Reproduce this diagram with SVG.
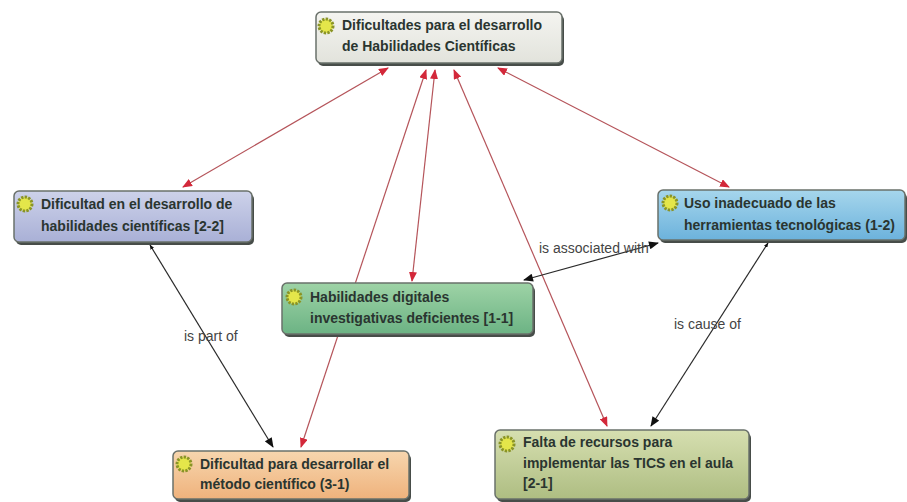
<svg xmlns="http://www.w3.org/2000/svg" width="907" height="502" viewBox="0 0 907 502">
<style>
text{font-family:"Liberation Sans",Arial,sans-serif}
.t{font-size:14px;font-weight:bold;fill:#2a3530}
.l{font-size:14px;fill:#444}
.box{stroke:#6a716b;stroke-width:1.5}
.sh{fill:#474d49}
.r{fill:none;stroke:#b5545a;stroke-width:1.2;marker-start:url(#ra);marker-end:url(#ra)}
.k{fill:none;stroke:#2a2a2a;stroke-width:1.2;marker-end:url(#ka)}
.kb{marker-start:url(#ka)}
.ks{marker-start:url(#kd)}
.sun{fill:#e4e64a;stroke:#8a9426;stroke-width:3;stroke-dasharray:2.4 1.2}
</style>
<defs>
<marker id="ra" viewBox="0 0 10 8" refX="9" refY="4" markerWidth="10" markerHeight="8" orient="auto-start-reverse" markerUnits="userSpaceOnUse"><path d="M0 0L10 4L0 8Z" fill="#d3283a"/></marker>
<marker id="ka" viewBox="0 0 10 8" refX="9" refY="4" markerWidth="11" markerHeight="8" orient="auto-start-reverse" markerUnits="userSpaceOnUse"><path d="M0 0L10 4L0 8Z" fill="#111"/></marker>
<marker id="kd" viewBox="0 0 10 8" refX="9" refY="4" markerWidth="5" markerHeight="4" orient="auto-start-reverse" markerUnits="userSpaceOnUse"><path d="M0 0L10 4L0 8Z" fill="#111"/></marker>
<linearGradient id="g0" x1="0" y1="0" x2="0" y2="1"><stop offset="0" stop-color="#f4f4f0"/><stop offset="1" stop-color="#e2e3dc"/></linearGradient>
<linearGradient id="g1" x1="0" y1="0" x2="0" y2="1"><stop offset="0" stop-color="#cdd2ea"/><stop offset="1" stop-color="#a9b0d6"/></linearGradient>
<linearGradient id="g2" x1="0" y1="0" x2="0" y2="1"><stop offset="0" stop-color="#a6d6ec"/><stop offset="1" stop-color="#6cb2dc"/></linearGradient>
<linearGradient id="g3" x1="0" y1="0" x2="0" y2="1"><stop offset="0" stop-color="#9ed3a6"/><stop offset="1" stop-color="#6cb384"/></linearGradient>
<linearGradient id="g4" x1="0" y1="0" x2="0" y2="1"><stop offset="0" stop-color="#f7d6ae"/><stop offset="1" stop-color="#efb27c"/></linearGradient>
<linearGradient id="g5" x1="0" y1="0" x2="0" y2="1"><stop offset="0" stop-color="#d6dfb0"/><stop offset="1" stop-color="#aebd82"/></linearGradient>
</defs>
<g id="connectors">
<path class="r" d="M388 68L183 187"/>
<path class="r" d="M426 70L301 447"/>
<path class="r" d="M435 70L412 281"/>
<path class="r" d="M454 70L607 426"/>
<path class="r" d="M498 68L729 187"/>
<path class="k ks" d="M150 245L273 447"/>
<path class="k ks" d="M768 243L651 426"/>
<path class="k kb" d="M524 280L658 243"/>
<text class="l" x="184" y="341">is part of</text>
<text class="l" x="674" y="329">is cause of</text>
<text class="l" x="539" y="253">is associated with</text>
</g>
<g id="n0"><rect class="sh" x="318" y="15" width="246" height="51" rx="5"/><rect class="box" x="316" y="12" width="246" height="51" rx="5" fill="url(#g0)"/><circle class="sun" cx="326" cy="26" r="7"/><text class="t" x="342" y="30">Dificultades para el desarrollo</text><text class="t" x="342" y="51">de Habilidades Científicas</text></g>
<g id="n1"><rect class="sh" x="16" y="194" width="238" height="51" rx="5"/><rect class="box" x="14" y="191" width="238" height="51" rx="5" fill="url(#g1)"/><circle class="sun" cx="25" cy="204" r="7"/><text class="t" x="41" y="209">Dificultad en el desarrollo de</text><text class="t" x="41" y="231">habilidades científicas [2-2]</text></g>
<g id="n2"><rect class="sh" x="660" y="193" width="247" height="50" rx="5"/><rect class="box" x="658" y="190" width="247" height="50" rx="5" fill="url(#g2)"/><circle class="sun" cx="670" cy="203" r="7"/><text class="t" x="684" y="208">Uso inadecuado de las</text><text class="t" x="684" y="230">herramientas tecnológicas (1-2)</text></g>
<g id="n3"><rect class="sh" x="284" y="286" width="251" height="51" rx="5"/><rect class="box" x="282" y="283" width="251" height="51" rx="5" fill="url(#g3)"/><circle class="sun" cx="294" cy="297" r="7"/><text class="t" x="310" y="302">Habilidades digitales</text><text class="t" x="310" y="323">investigativas deficientes [1-1]</text></g>
<g id="n4"><rect class="sh" x="175" y="454" width="236" height="48" rx="5"/><rect class="box" x="173" y="451" width="236" height="48" rx="5" fill="url(#g4)"/><circle class="sun" cx="184" cy="464" r="7"/><text class="t" x="200" y="469">Dificultad para desarrollar el</text><text class="t" x="200" y="489">método científico (3-1)</text></g>
<g id="n5"><rect class="sh" x="497" y="433" width="254" height="69" rx="5"/><rect class="box" x="495" y="430" width="254" height="69" rx="5" fill="url(#g5)"/><circle class="sun" cx="507" cy="444" r="7"/><text class="t" x="523" y="447">Falta de recursos para</text><text class="t" x="523" y="468">implementar las TICS en el aula</text><text class="t" x="523" y="488">[2-1]</text></g>
</svg>
